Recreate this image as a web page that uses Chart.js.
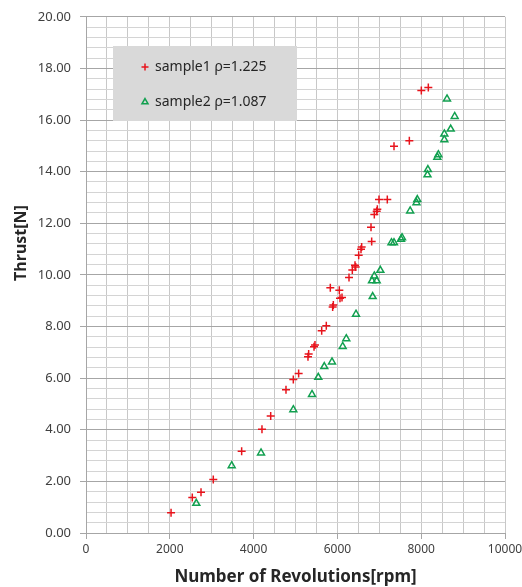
<!DOCTYPE html>
<html>
<head>
<meta charset="utf-8">
<script src="https://cdn.jsdelivr.net/npm/chart.js@4.4.0/dist/chart.umd.min.js"></script>
<style>
  html, body { margin: 0; padding: 0; background: #fff; }
</style>
</head>
<body>
<canvas id="chart" width="522" height="587"></canvas>
<script>
// sample1 (rho = 1.225)
const rpm1 = [2030, 2537, 2745, 3038, 3715, 4200, 4408, 4773, 4948, 5075,
  5298, 5314, 5442, 5465, 5625, 5735, 5887, 5903, 5831, 6046,
  6062, 6110, 6277, 6356, 6420, 6437, 6508, 6563, 6579, 6818,
  6802, 6881, 6938, 6953, 6993, 7191, 7351, 7717, 8003, 8170];
const thrust1 = [0.78, 1.38, 1.58, 2.07, 3.17, 4.02, 4.53, 5.55, 5.95, 6.18,
  6.83, 6.94, 7.22, 7.28, 7.84, 8.03, 8.76, 8.83, 9.50, 9.41,
  9.10, 9.12, 9.90, 10.19, 10.37, 10.31, 10.76, 10.99, 11.08, 11.29,
  11.85, 12.34, 12.47, 12.54, 12.92, 12.92, 14.98, 15.20, 17.14, 17.26];

// sample2 (rho = 1.087)
const rpm2 = [2633, 3477, 4177, 4948, 5394, 5544, 5687, 5871, 6126, 6212,
  6444, 6842, 6826, 6881, 6938, 7025, 7290, 7350, 7518, 7542,
  7736, 7887, 7907, 8150, 8160, 8385, 8409, 8552, 8552, 8704,
  8799, 8616];
const thrust2 = [1.15, 2.61, 3.10, 4.78, 5.37, 6.03, 6.45, 6.63, 7.23, 7.53,
  8.48, 9.16, 9.77, 9.96, 9.77, 10.18, 11.25, 11.25, 11.38, 11.44,
  12.48, 12.80, 12.92, 13.88, 14.08, 14.56, 14.66, 15.24, 15.46, 15.65,
  16.14, 16.82];

const seriesNames = ['sample1 \u03c1=1.225', 'sample2 \u03c1=1.087'];
const xTickLabels = [0, 2000, 4000, 6000, 8000, 10000];
const yTickLabels = [0, 2, 4, 6, 8, 10, 12, 14, 16, 18, 20];
const xMinorStep = 500;
const yMinorStep = 0.4;

const RED = '#e8141c';
const GREEN = '#12a050';
const FONT = "'Noto Sans', sans-serif";

function minorTicks(labels, step) {
  const lo = labels[0], hi = labels[labels.length - 1];
  const out = [];
  const n = Math.round((hi - lo) / step);
  for (let i = 0; i <= n; i++) out.push({ value: +(lo + i * step).toFixed(6) });
  return out;
}
function isMajor(labels, v) {
  return labels.some(l => Math.abs(l - v) < 1e-6);
}

const legendBox = {
  id: 'legendBox',
  beforeDatasetsDraw(chart) {
    const ctx = chart.ctx;
    ctx.save();
    ctx.fillStyle = '#d9d9d9';
    ctx.fillRect(113, 46, 184, 75);
    const items = [
      { style: 'cross', color: RED, y: 67 },
      { style: 'triangle', color: GREEN, y: 102 }
    ];
    items.forEach((it, i) => {
      ctx.strokeStyle = it.color;
      ctx.fillStyle = 'rgba(0,0,0,0)';
      ctx.lineWidth = 1.5;
      Chart.helpers.drawPoint(ctx, { pointStyle: it.style, radius: 3.5, borderWidth: 1.5 }, 145, it.y);
      ctx.fillStyle = '#262626';
      ctx.font = '14px ' + FONT;
      ctx.textAlign = 'left';
      ctx.textBaseline = 'middle';
      ctx.fillText(seriesNames[i], 155, it.y);
    });
    ctx.restore();
  },
  afterDraw(chart) {
    // y axis title, placed like the original (a little above centre)
    const ctx = chart.ctx;
    ctx.save();
    ctx.translate(21, 243);
    ctx.rotate(-Math.PI / 2);
    ctx.font = 'bold 16px ' + FONT;
    ctx.fillStyle = '#262626';
    ctx.textAlign = 'center';
    ctx.textBaseline = 'middle';
    ctx.fillText('Thrust[N]', 0, 0);
    ctx.restore();
  }
};

new Chart(document.getElementById('chart'), {
  type: 'scatter',
  data: {
    datasets: [
      {
        label: seriesNames[0],
        data: rpm1.map((x, i) => ({ x: x, y: thrust1[i] })),
        pointStyle: 'cross',
        pointRadius: 4,
        borderColor: RED,
        backgroundColor: RED,
        borderWidth: 1.5
      },
      {
        label: seriesNames[1],
        data: rpm2.map((x, i) => ({ x: x, y: thrust2[i] })),
        pointStyle: 'triangle',
        pointRadius: 4,
        borderColor: GREEN,
        backgroundColor: 'rgba(0,0,0,0)',
        borderWidth: 1.5
      }
    ]
  },
  options: {
    responsive: false,
    animation: false,
    layout: { padding: { top: 13, right: 17, left: 0, bottom: 0 } },
    plugins: {
      legend: { display: false },
      tooltip: { enabled: false }
    },
    scales: {
      x: {
        type: 'linear',
        min: 0,
        max: 10000,
        afterFit: s => { s.height = 54; s.paddingRight = 17; s.paddingLeft = 0; },
        afterBuildTicks: s => { s.ticks = minorTicks(xTickLabels, xMinorStep); },
        grid: {
          color: '#c8c8c8',
          tickLength: 6,
          tickColor: c => (c.tick && isMajor(xTickLabels, c.tick.value)) ? '#a6a6a6' : 'rgba(0,0,0,0)'
        },
        border: { color: '#a6a6a6' },
        ticks: {
          autoSkip: false,
          maxRotation: 0,
          padding: 3,
          color: '#404040',
          font: { family: FONT, size: 12 },
          callback: v => isMajor(xTickLabels, v) ? String(v) : ''
        },
        title: {
          display: true,
          text: 'Number of Revolutions[rpm]',
          color: '#262626',
          font: { family: FONT, size: 17, weight: 'bold' },
          padding: { top: 0, bottom: 0 }
        }
      },
      y: {
        type: 'linear',
        min: 0,
        max: 20,
        afterFit: s => { s.width = 86; },
        afterBuildTicks: s => { s.ticks = minorTicks(yTickLabels, yMinorStep); },
        grid: {
          color: c => (c.tick && isMajor(yTickLabels, c.tick.value)) ? '#a6a6a6' : '#d4d4d4',
          tickLength: 6,
          tickColor: c => (c.tick && isMajor(yTickLabels, c.tick.value)) ? '#a6a6a6' : 'rgba(0,0,0,0)'
        },
        border: { color: '#a6a6a6' },
        ticks: {
          autoSkip: false,
          padding: 9,
          color: '#404040',
          font: { family: FONT, size: 13 },
          callback: v => isMajor(yTickLabels, v) ? v.toFixed(2) : ''
        }
      }
    }
  },
  plugins: [legendBox]
});
</script>
</body>
</html>
